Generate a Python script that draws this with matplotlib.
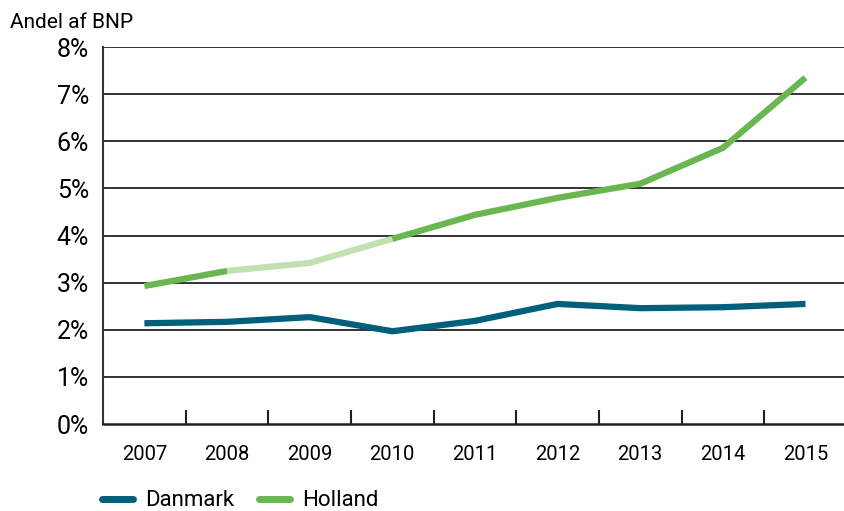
import matplotlib.pyplot as plt
import numpy as np
from matplotlib.lines import Line2D

plt.rcParams['font.family'] = ['Roboto', 'DejaVu Sans']

years = ['2007', '2008', '2009', '2010', '2011', '2012', '2013', '2014', '2015']
danmark = [2.14, 2.17, 2.27, 1.97, 2.19, 2.55, 2.46, 2.48, 2.55]
holland = [2.93, 3.25, 3.42, 3.93, 4.44, 4.80, 5.10, 5.86, 7.35]
yticks = [0, 1, 2, 3, 4, 5, 6, 7, 8]

dk_color = '#005f7a'
nl_color = '#6ab650'
nl_light = '#c3e0b2'

fig = plt.figure(figsize=(8.45, 5.11), dpi=100)
ax = fig.add_axes([0.122, 0.170, 0.885, 0.738])

x = np.arange(len(years))

# grid
for v in yticks[1:]:
    ax.axhline(v, color='#333333', lw=1.4, zorder=1)

ax.plot(x, danmark, color=dk_color, lw=4.5, solid_capstyle='butt', zorder=3)
# Holland: lyst segment 2008-2010
ax.plot(x[:2], holland[:2], color=nl_color, lw=4.5, solid_capstyle='butt', zorder=3)
ax.plot(x[1:4], holland[1:4], color=nl_light, lw=4.5, solid_capstyle='butt', zorder=3)
ax.plot(x[3:], holland[3:], color=nl_color, lw=4.5, solid_capstyle='butt', zorder=3)

ax.set_xlim(-0.5, len(years) - 0.45)
ax.set_ylim(0, 8)
ax.set_yticks(yticks)
ax.set_yticklabels([f'{v}%' for v in yticks], fontsize=18)
ax.tick_params(axis='y', length=0, pad=10)

ax.set_xticks(x)
ax.set_xticklabels(years, fontsize=14.5)
ax.set_xticks(x[:-1] + 0.5, minor=True)
ax.tick_params(axis='x', which='major', length=0, pad=15)
ax.tick_params(axis='x', which='minor', direction='in', length=10, width=1.5, color='#222222')

for s in ['top', 'right']:
    ax.spines[s].set_visible(False)
ax.spines['left'].set_linewidth(1.5)
ax.spines['bottom'].set_linewidth(1.8)
ax.spines['left'].set_color('#333333')
ax.spines['bottom'].set_color('#222222')

fig.text(0.012, 0.955, 'Andel af BNP', fontsize=15, ha='left', va='center')

# legende
handles = [Line2D([0], [0], color=dk_color, lw=5, solid_capstyle='round'),
           Line2D([0], [0], color=nl_color, lw=5, solid_capstyle='round')]
fig.legend(handles, ['Danmark', 'Holland'], loc='center left', bbox_to_anchor=(0.121, 0.02),
           ncol=2, frameon=False, fontsize=16, handlelength=1.4, columnspacing=1.1,
           handletextpad=0.55, borderpad=0, borderaxespad=0)

plt.savefig('out.png', dpi=100)
